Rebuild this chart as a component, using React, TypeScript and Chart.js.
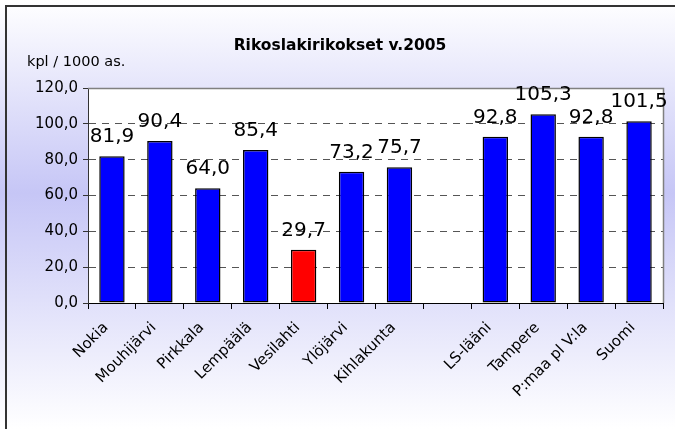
import React, { useEffect, useRef } from "react";
import { Chart, registerables } from "chart.js";

Chart.register(...registerables);

const categories = [
  "Nokia",
  "Mouhijärvi",
  "Pirkkala",
  "Lempäälä",
  "Vesilahti",
  "Ylöjärvi",
  "Kihlakunta",
  "",
  "LS-lääni",
  "Tampere",
  "P:maa pl V:la",
  "Suomi",
];
const values: (number | null)[] = [81.9, 90.4, 64.0, 85.4, 29.7, 73.2, 75.7, null, 92.8, 105.3, 92.8, 101.5];
const highlighted = "Vesilahti";
const yTicks = [0, 20, 40, 60, 80, 100, 120];
const titleText = "Rikoslakirikokset v.2005";
const yAxisTitle = "kpl / 1000 as.";

const FONT = '"DejaVu Sans"';
const fmt = (v: number) => v.toFixed(1).replace(".", ",");

const decor = {
  id: "decor",
  beforeDraw(chart: any) {
    const { ctx, width, height, chartArea: a } = chart;
    ctx.save();
    const g = ctx.createLinearGradient(0, 0, 0, height);
    g.addColorStop(0, "#ffffff");
    g.addColorStop(0.45, "#c6c6f6");
    g.addColorStop(1, "#ffffff");
    ctx.fillStyle = g;
    ctx.fillRect(0, 0, width, height);
    ctx.fillStyle = "#ffffff";
    ctx.fillRect(a.left, a.top, a.right - a.left, a.bottom - a.top);
    ctx.fillStyle = "#333333";
    ctx.fillRect(5, 5, width - 5, 2);
    ctx.fillRect(5, 5, 2, height - 5);
    ctx.fillStyle = "#000000";
    ctx.font = `bold 15.5px ${FONT}`;
    ctx.textAlign = "center";
    ctx.textBaseline = "alphabetic";
    ctx.fillText(titleText, 340, 50);
    ctx.font = `14.5px ${FONT}`;
    ctx.textAlign = "left";
    ctx.fillText(yAxisTitle, 27, 66);
    ctx.restore();
  },
  beforeDatasetsDraw(chart: any) {
    const { ctx, chartArea: a } = chart;
    ctx.save();
    ctx.strokeStyle = "#808080";
    ctx.lineWidth = 1.5;
    ctx.beginPath();
    ctx.moveTo(a.left, a.top + 0.5);
    ctx.lineTo(a.right + 0.5, a.top + 0.5);
    ctx.lineTo(a.right + 0.5, a.bottom);
    ctx.stroke();
    ctx.restore();
  },
  afterDatasetsDraw(chart: any) {
    const { ctx } = chart;
    const meta = chart.getDatasetMeta(0);
    ctx.save();
    ctx.fillStyle = "#000000";
    ctx.font = `20px ${FONT}`;
    ctx.textAlign = "center";
    ctx.textBaseline = "alphabetic";
    meta.data.forEach((el: any, i: number) => {
      const v = values[i];
      if (v == null) return;
      ctx.fillText(fmt(v), el.x, el.y - 14);
    });
    ctx.restore();
  },
};

export default function App() {
  const ref = useRef<HTMLCanvasElement | null>(null);
  useEffect(() => {
    if (!ref.current) return;
    const chart = new Chart(ref.current, {
      type: "bar",
      data: {
        labels: categories,
        datasets: [
          {
            data: values,
            backgroundColor: categories.map((c) => (c === highlighted ? "#ff0000" : "#0000ff")),
            borderColor: "#000000",
            borderWidth: 1.5,
            borderSkipped: false,
            categoryPercentage: 1,
            barPercentage: 0.53,
          },
        ],
      },
      options: {
        animation: false,
        responsive: false,
        devicePixelRatio: 1,
        layout: { padding: { top: 88, right: 12, left: 0, bottom: 0 } },
        plugins: { legend: { display: false }, title: { display: false }, tooltip: { enabled: false } },
        scales: {
          x: {
            afterFit: (s: any) => {
              s.height = 126;
            },
            grid: {
              offset: true,
              drawOnChartArea: false,
              drawTicks: true,
              tickLength: 6,
              tickColor: "#000000",
              color: "#000000",
            },
            border: { color: "#000000", width: 1 },
            ticks: {
              autoSkip: false,
              maxRotation: 45,
              minRotation: 45,
              color: "#000000",
              font: { family: "DejaVu Sans", size: 15 },
              padding: 10,
              labelOffset: -6,
            },
          },
          y: {
            min: 0,
            max: 120,
            afterFit: (s: any) => {
              s.width = 88;
            },
            afterBuildTicks: (s: any) => {
              s.ticks = yTicks.map((v) => ({ value: v }));
            },
            grid: {
              color: (c: any) => (c.tick && (c.tick.value === 0 || c.tick.value === 120) ? "rgba(0,0,0,0)" : "#555555"),
              tickColor: "#333333",
              tickLength: 5,
              drawTicks: true,
            },
            border: { color: "#333333", width: 1, dash: [7, 6] },
            ticks: {
              color: "#000000",
              font: { family: "DejaVu Sans", size: 15 },
              padding: 5,
              callback: (v: any) => fmt(Number(v)),
            },
          },
        },
      },
      plugins: [decor],
    });
    return () => chart.destroy();
  }, []);
  return (
    <div style={{ position: "absolute", left: 0, top: 0 }}>
      <canvas ref={ref} width={675} height={429} style={{ display: "block" }} />
    </div>
  );
}
